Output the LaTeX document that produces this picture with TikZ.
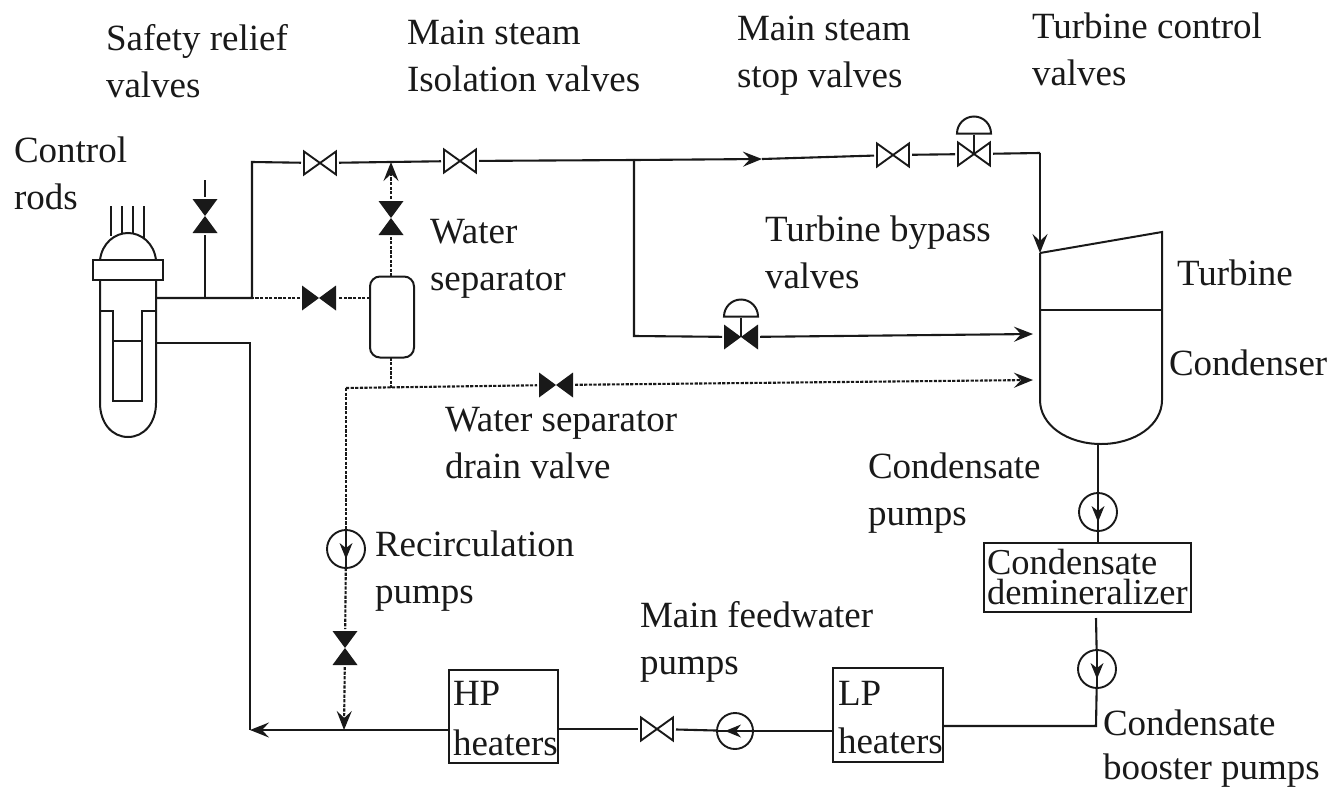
\documentclass[tikz,border=0pt]{standalone}
\usepackage{fontspec}
\setmainfont{Liberation Serif}
\usetikzlibrary{arrows.meta}
\definecolor{ink}{gray}{0.1}
\tikzset{
  x=1pt,y=-1pt,
  every node/.style={inner sep=0pt,outer sep=0pt},
  pipe/.style={line width=2.1pt,draw=ink,line join=miter},
  drainline/.style={pipe,dash pattern=on 3.2pt off 1.4pt},
  tipped/.style={-{Stealth[length=19pt,width=15pt,inset=7pt]}},
  vessel/.style={line width=2pt,draw=ink},
  lab/.style={anchor=base west,align=left,text=ink,font=\fontsize{37}{46.5}\selectfont},
  equip/.style={draw=ink,line width=2pt,rectangle},
  valvebox/.style={rectangle,minimum width=38pt,minimum height=28pt},
  valvev/.style={rectangle,minimum width=28pt,minimum height=38pt},
  hollowh/.style={valvebox,path picture={\begin{scope}[shift={(path picture bounding box.center)}]
    \draw[line width=1.9pt,draw=ink,fill=white,line join=miter] (-16pt,11.5pt)--(16pt,-11.5pt)--(16pt,11.5pt)--(-16pt,-11.5pt)--cycle;\end{scope}}},
  solidh/.style={valvebox,path picture={\begin{scope}[shift={(path picture bounding box.center)}]
    \fill[ink] (-17pt,12.5pt)--(17pt,-12.5pt)--(17pt,12.5pt)--(-17pt,-12.5pt)--cycle;\end{scope}}},
  solidv/.style={valvev,path picture={\begin{scope}[shift={(path picture bounding box.center)}]
    \fill[ink] (-12.5pt,17pt)--(12.5pt,17pt)--(-12.5pt,-17pt)--(12.5pt,-17pt)--cycle;\end{scope}}},
  actuator/.style={rectangle,minimum width=38pt,minimum height=21pt,path picture={\begin{scope}[shift={(path picture bounding box.center)}]
    \draw[line width=2pt,draw=ink] (-17pt,-9pt) arc[start angle=180,end angle=0,radius=17pt] -- cycle;\end{scope}}},
  pumpv/.style={circle,draw=ink,line width=1.9pt,minimum size=38pt,path picture={\begin{scope}[shift={(path picture bounding box.center)}]
    \draw[line width=2pt,draw=ink] (0pt,20pt)--(0pt,-20pt);
    \fill[ink] (0pt,-10pt)--(-6.5pt,6pt)--(0pt,1pt)--(6.5pt,6pt)--cycle;\end{scope}}},
  pumph/.style={circle,draw=ink,line width=1.9pt,minimum size=36pt,path picture={\begin{scope}[shift={(path picture bounding box.center)}]
    \draw[line width=2pt,draw=ink] (19pt,0pt)--(-19pt,0pt);
    \fill[ink] (-10pt,0pt)--(6pt,-6.5pt)--(1pt,0pt)--(6pt,6.5pt)--cycle;\end{scope}}},
}
\begin{document}
\begin{tikzpicture}
\useasboundingbox (0,0) rectangle (1329,787);
% --- reactor
\node[equip,minimum width=70pt,minimum height=20pt] (flange) at (128,270) {};
\draw[vessel] (100,260) .. controls (102,243) and (115,233) .. (128,233) .. controls (141,233) and (154,243) .. (156,260);
\draw[vessel] (100,280) -- (100,403) .. controls (100,423) and (112,437) .. (128,437) .. controls (144,437) and (156,423) .. (156,403) -- (156,280);
\draw[vessel] (100,311) -- (113,311) -- (113,401) -- (142,401) -- (142,311) -- (156,311);
\draw[vessel] (113,341) -- (142,341);
\draw[vessel] (111,206) -- (111,236);
\draw[vessel] (122,206) -- (122,233);
\draw[vessel] (133,206) -- (133,233);
\draw[vessel] (144,206) -- (144,238);
% --- coordinates of pipe corners
\coordinate (rpvout) at (156,298);
\coordinate (srvjoin) at (205,298);
\coordinate (srvend) at (205,180);
\coordinate (msjoin) at (252,298);
\coordinate (mscorner) at (252,162);
\coordinate (fwout) at (156,343);
\coordinate (fwcorner) at (250,343);
\coordinate (fwbottom) at (250,730);
\coordinate (bpjoin) at (634,160);
\coordinate (flowmark) at (762,159);
\coordinate (bpcorner) at (634,336);
\coordinate (tcorner) at (1040,153);
\coordinate (tin) at (1040,253);
\coordinate (cbyp) at (1033,334);
\coordinate (cdrain) at (1033,380);
\coordinate (sepdrop) at (391,388);
\coordinate (recirctop) at (346,388);
\coordinate (msup) at (391,162);
\coordinate (recircend) at (344,730);
\coordinate (condout) at (1098,444);
\coordinate (demout) at (1096,618);
\coordinate (lpcorner) at (1096,726);
% --- turbine and condenser
\draw[vessel] (1040,253) -- (1162,232) -- (1162,400) .. controls (1162,425) and (1135,444) .. (1101,444) .. controls (1067,444) and (1040,425) .. (1040,400) -- (1040,253);
\draw[vessel] (1040,310) -- (1162,310);
% --- separator
\node[equip,rounded corners=10pt,minimum width=44pt,minimum height=81pt] (sep) at (392,317) {};
% --- valves
\node[hollowh] (msv1) at (320,163) {};
\node[hollowh] (msv2) at (460,161) {};
\node[hollowh] (stopv) at (893,155) {};
\node[hollowh] (ctrlv) at (974,154) {};
\node[actuator,anchor=south] (ctrla) at (974,135) {};
\node[solidh] (bypv) at (741,337) {};
\node[actuator,anchor=south] (bypa) at (741,318) {};
\node[solidv] (srv) at (205,216) {};
\node[solidv] (sepv) at (391,218) {};
\node[solidh] (sepbv) at (319,298) {};
\node[solidh] (drainv) at (556,385) {};
\node[solidv] (recv) at (345,648) {};
\node[hollowh] (fwv) at (657,729) {};
% --- pumps
\node[pumpv] (recp) at (346,549) {};
\node[pumph] (fwp) at (735,731) {};
\node[pumpv] (condp) at (1098,512) {};
\node[pumpv] (boostp) at (1097,669) {};
% --- equipment boxes
\node[equip,minimum width=109pt,minimum height=93pt] (hp) at (503.5,716.5) {};
\node[equip,minimum width=110pt,minimum height=94pt] (lp) at (888,715) {};
\node[equip,minimum width=207pt,minimum height=69pt] (demin) at (1087.5,577.5) {};
% --- steam pipes
\draw[pipe] (rpvout) -- (msjoin) -- (mscorner) -- (msv1);
\draw[pipe] (srvjoin) -- (srv);
\draw[pipe] (srv) -- (srvend);
\draw[pipe] (msv1) -- (msv2);
\draw[pipe] (msv2) -- (bpjoin);
\draw[pipe,tipped] (bpjoin) -- (flowmark);
\draw[pipe] (flowmark) -- (stopv);
\draw[pipe] (stopv) -- (ctrlv);
\draw[pipe] (ctrlv) -- (tcorner);
\draw[pipe,tipped] (tcorner) -- (tin);
\draw[pipe] (bpjoin) -- (bpcorner) -- (bypv);
\draw[pipe,tipped] (bypv) -- (cbyp);
\draw[pipe] (bypa.south) -- (bypv.center);
\draw[pipe] (ctrla.south) -- (ctrlv.center);
% --- separator pipes
\draw[drainline] (sep.west |- sepbv) -- (sepbv);
\draw[drainline] (sepbv) -- (msjoin);
\draw[drainline] (sep.north -| sepv) -- (sepv);
\draw[drainline,tipped] (sepv) -- (msup);
\draw[drainline] (sep.south -| sepdrop) -- (sepdrop);
\draw[drainline] (recirctop) -- (drainv);
\draw[drainline,tipped] (drainv) -- (cdrain);
\draw[drainline] (recirctop) -- (recp);
\draw[drainline] (recp) -- (recv);
\draw[drainline,tipped] (recv) -- (recircend);
% --- feedwater
\draw[pipe] (fwout) -- (fwcorner) -- (fwbottom);
\draw[pipe,tipped] (hp.west |- fwbottom) -- (fwbottom);
\draw[pipe] (hp.east |- fwv) -- (fwv);
\draw[pipe] (fwv) -- (fwp);
\draw[pipe] (fwp) -- (lp.west |- fwp);
\draw[pipe] (lp.east |- lpcorner) -- (lpcorner) -- (boostp);
\draw[pipe] (demout) -- (boostp);
\draw[pipe] (condout) -- (condp);
\draw[pipe] (condp) -- (demin.north -| condp);
% --- labels
\node[lab] (tsrv) at (106,97) {Safety relief\\valves};
\node[lab] (tmsiv) at (407,91) {Main steam\\Isolation valves};
\node[lab] (tstop) at (737,87) {Main steam\\stop valves};
\node[lab] (tctrl) at (1032,85) {Turbine control\\valves};
\node[lab] (trods) at (14,209) {Control\\rods};
\node[lab] (tsep) at (430,290) {Water\\separator};
\node[lab] (tbyp) at (765,288) {Turbine bypass\\valves};
\node[lab] (tturb) at (1177,285) {Turbine};
\node[lab] (tcond) at (1169,375) {Condenser};
\node[lab] (tdrain) at (445,478) {Water separator\\drain valve};
\node[lab] (tcp) at (868,525) {Condensate\\pumps};
\node[lab] (trec) at (375,603) {Recirculation\\pumps};
\node[lab] (tfw) at (640,674) {Main feedwater\\pumps};
\node[lab,font=\fontsize{37}{44}\selectfont] (tboost) at (1103,779) {Condensate\\booster pumps};
\node[lab,font=\fontsize{37}{50}\selectfont] (thp) at (453,755) {HP\\heaters};
\node[lab,font=\fontsize{37}{48}\selectfont] (tlp) at (838,753) {LP\\heaters};
\node[lab,font=\fontsize{36.5}{30}\selectfont] (tdem) at (987,604) {Condensate\\demineralizer};
\end{tikzpicture}
\end{document}
